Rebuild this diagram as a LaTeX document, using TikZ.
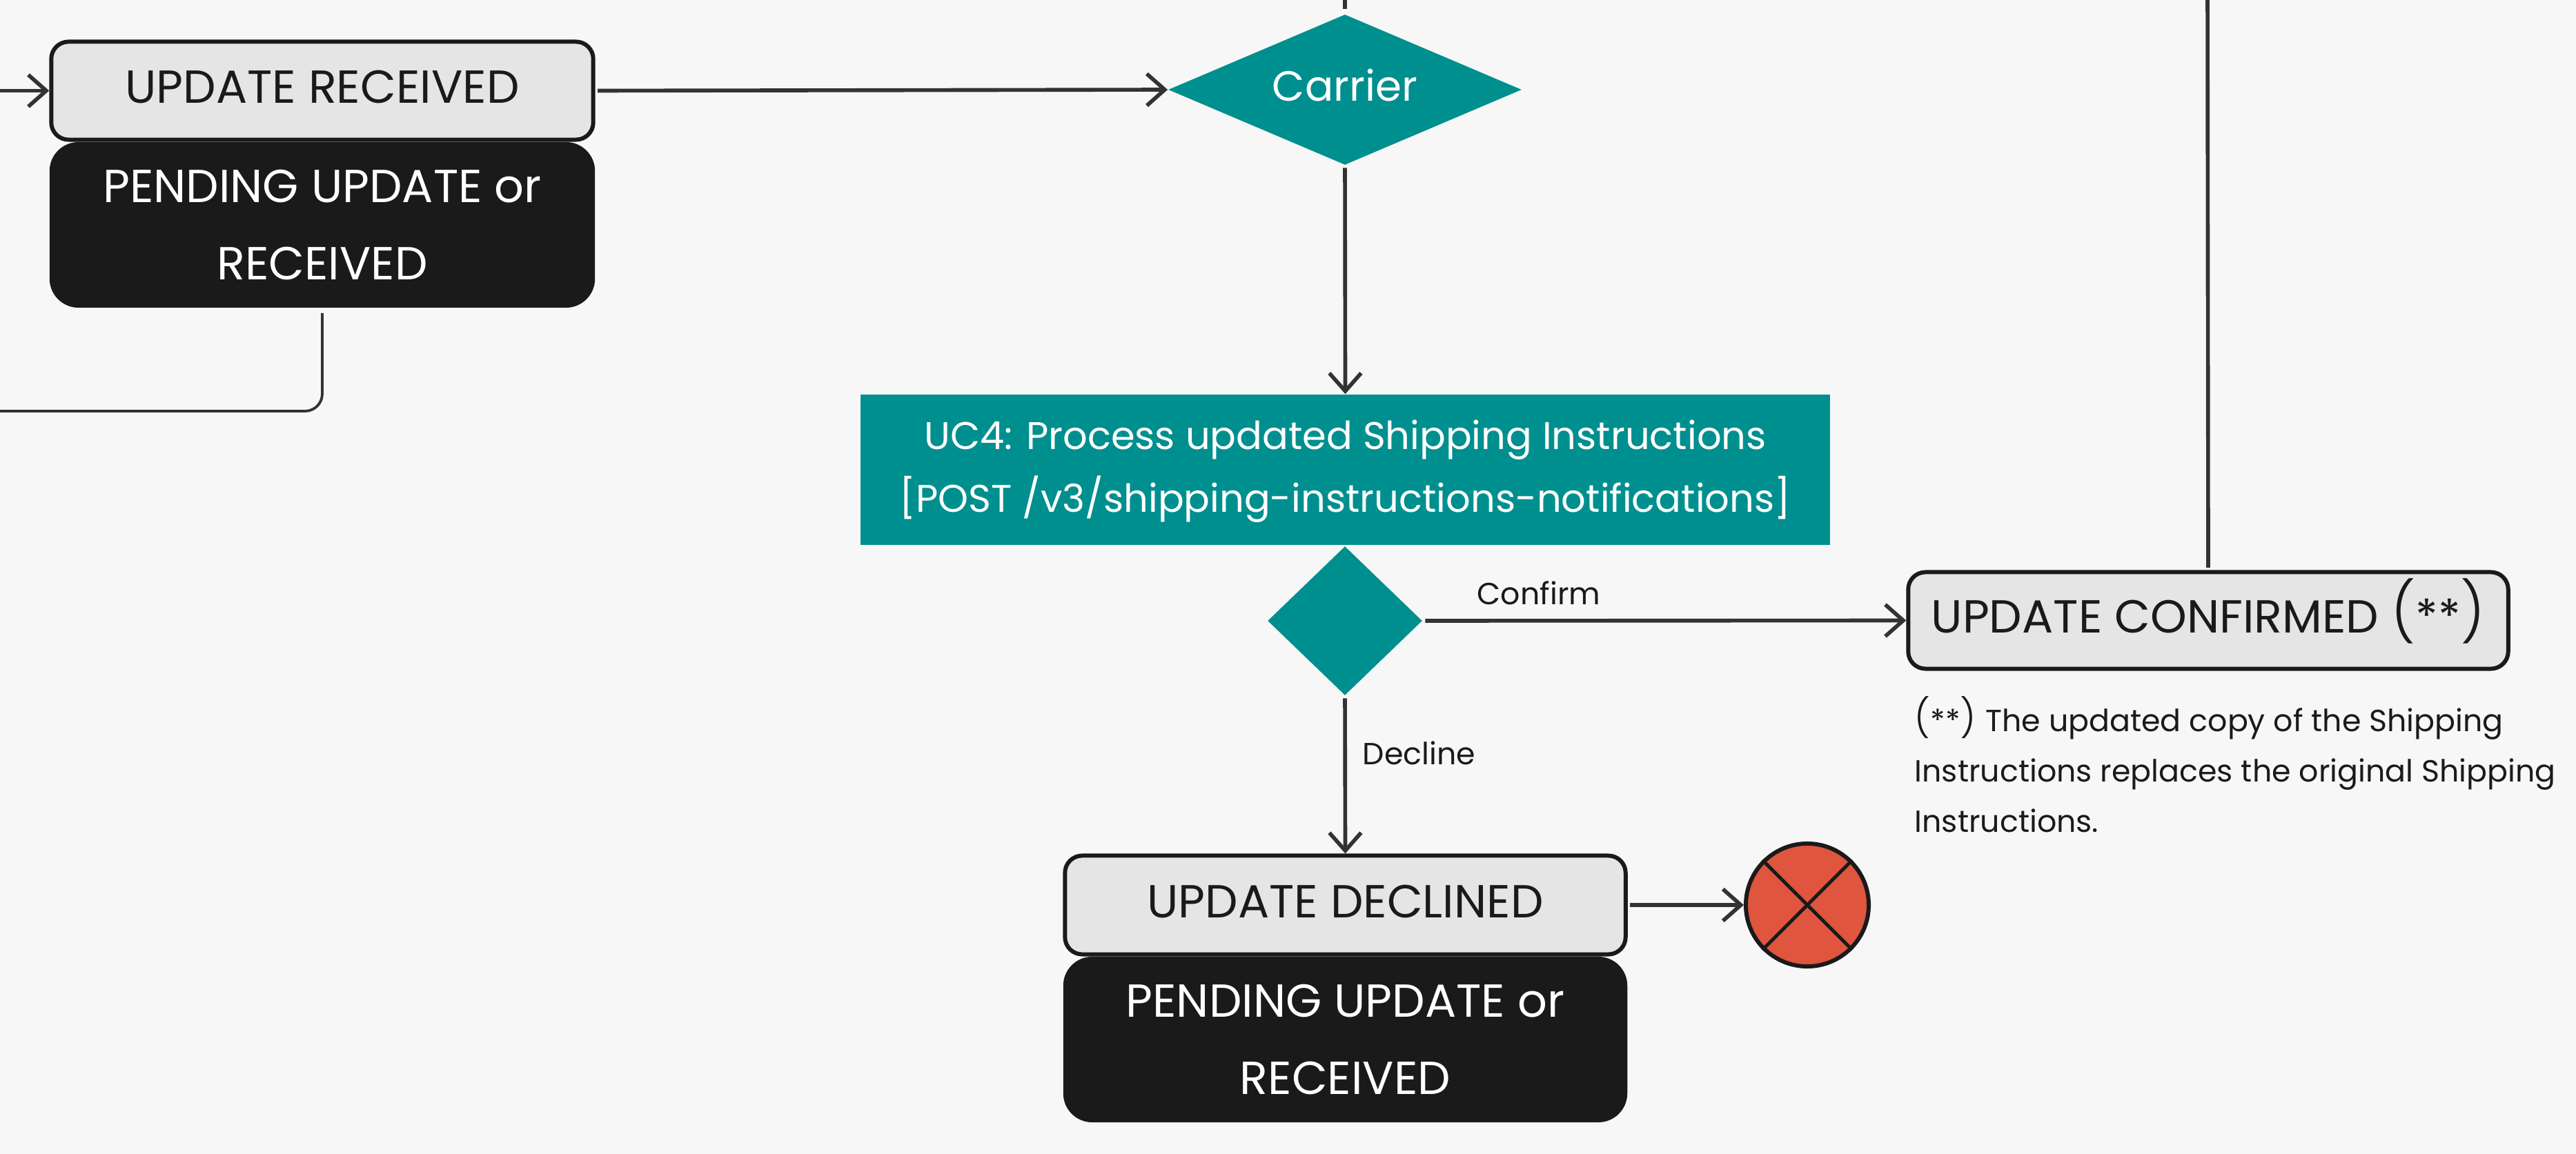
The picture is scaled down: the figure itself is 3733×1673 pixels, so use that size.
\documentclass[tikz,border=0pt]{standalone}
\usepackage{fontspec}
\setmainfont{Poppins}
\newfontfamily\thinfont{Poppins Light}
\usetikzlibrary{arrows.meta,shapes.geometric}
\definecolor{pagebg}{HTML}{F7F7F7}
\definecolor{statefill}{HTML}{E5E5E5}
\definecolor{inkblack}{HTML}{1A1A1A}
\definecolor{tealfill}{HTML}{008F8F}
\definecolor{stopred}{HTML}{DF553E}
\definecolor{wire}{HTML}{333333}
\newcommand{\stars}[1]{{\thinfont\fontsize{#1}{#1}\selectfont(}**{\thinfont\fontsize{#1}{#1}\selectfont)}}
\tikzset{
  statebox/.style={draw=inkblack, fill=statefill, line width=1.7pt, rounded corners=.25cm, inner sep=0pt,
    text=inkblack, text height=13pt, text depth=2.6pt, font=\fontsize{19.1}{22}\selectfont},
  pendingbox/.style={fill=inkblack, rounded corners=.42cm, inner sep=0pt, align=center, text=white,
    minimum height=2.4cm, font=\fontsize{19.1}{31.9}\selectfont},
  tealbox/.style={fill=tealfill, inner sep=0pt, align=center, text=white,
    font=\fontsize{15.9}{25.9}\selectfont},
  flow/.style={draw=wire, line width=1.6pt, -{Straight Barb[length=.26cm,width=.46cm]}},
  plainflow/.style={draw=wire, line width=1.6pt},
  smalltext/.style={text=inkblack, inner sep=0pt, font=\fontsize{12.6}{20.8}\selectfont}
}
\begin{document}
\begin{tikzpicture}[x=.01cm, y=-.01cm]
  \useasboundingbox (0,0) rectangle (3733,1673);
  \fill[pagebg] (0,0) rectangle (3733,1673);

  \node[statebox, minimum width=7.85cm, minimum height=1.42cm] (received) at (467,131.5) {UPDATE RECEIVED};
  \node[pendingbox, minimum width=7.9cm] (pendingtop) at (467,326) {PENDING UPDATE or\\RECEIVED};
  \node[tealbox, diamond, aspect=2.35, minimum width=5.12cm, minimum height=2.18cm, text height=12pt, text depth=2.6pt,
    font=\fontsize{17.4}{20}\selectfont] (carrier) at (1949,130) {Carrier};
  \node[tealbox, minimum width=14.05cm, minimum height=2.18cm] (process) at (1949.5,681)
    {\rule{0pt}{13.2pt}UC4: Process updated Shipping Instructions\\{[}POST /v3/shipping-instructions-notifications{]}};
  \node[tealbox, diamond, minimum width=2.24cm, minimum height=2.16cm] (decision) at (1949,900) {};
  \node[statebox, minimum width=8.69cm, minimum height=1.40cm] (confirmed) at (3200,899.5) {UPDATE CONFIRMED \stars{24}};
  \node[statebox, minimum width=8.12cm, minimum height=1.43cm] (declined) at (1949.5,1312) {UPDATE DECLINED};
  \node[pendingbox, minimum width=8.17cm] (pendingbottom) at (1949.5,1507) {PENDING UPDATE or\\RECEIVED};
  \node[circle, draw=inkblack, fill=stopred, line width=1.7pt, minimum size=1.78cm, inner sep=0pt] (stop) at (2619,1312) {};
  \draw[inkblack, line width=1.4pt] (stop.45) -- (stop.225);
  \draw[inkblack, line width=1.4pt] (stop.135) -- (stop.-45);

  \node[smalltext, anchor=base west] (confirmlabel) at (2140,876) {Confirm};
  \node[smalltext, anchor=base west] (declinelabel) at (1974,1108) {Decline};
  \node[smalltext, anchor=north west, align=left] (footnote) at (2774,1009)
    {\stars{15.5}\hspace{.6pt} The updated copy of the Shipping\\Instructions replaces the original Shipping\\Instructions.};

  \coordinate (leftin) at (0,131.5);
  \coordinate (leftout) at (0,596);
  \coordinate (topcarrier) at (1949,0);
  \coordinate (topconfirmed) at (3199,0);

  \draw[flow] (leftin) -- (received.west);
  \draw[flow, shorten <=1pt] (received.east) -- (carrier.west);
  \draw[plainflow] (topcarrier) -- ([yshift=2pt]carrier.north);
  \draw[flow, shorten <=1pt] (carrier.south) -- (process.north);
  \draw[flow, shorten <=1pt] (decision.east) -- (confirmed.west);
  \draw[flow, shorten <=1pt] (decision.south) -- (declined.north);
  \draw[flow, shorten <=1pt] (declined.east) -- (stop.west);
  \draw[plainflow] (topconfirmed) -- ([yshift=1pt]confirmed.north);
  \draw[draw=wire, line width=1.1pt, rounded corners=.25cm] ([yshift=-2pt]pendingtop.south) |- (leftout);
\end{tikzpicture}
\end{document}
